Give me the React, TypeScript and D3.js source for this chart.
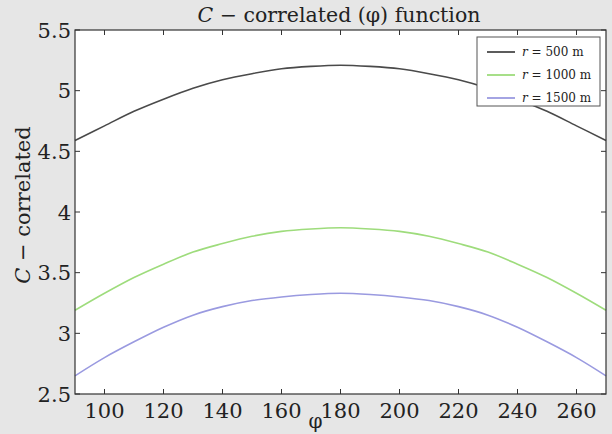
import { useEffect, useRef } from 'react';
import * as d3 from 'd3';

const phi = [90, 100, 110, 120, 130, 140, 150, 160, 170, 180, 190, 200, 210, 220, 230, 240, 250, 260, 270];
const r500 = [4.59, 4.71, 4.83, 4.93, 5.02, 5.09, 5.14, 5.18, 5.2, 5.21, 5.2, 5.18, 5.14, 5.09, 5.02, 4.93, 4.83, 4.71, 4.59];
const r1000 = [3.19, 3.33, 3.46, 3.57, 3.67, 3.74, 3.8, 3.84, 3.86, 3.87, 3.86, 3.84, 3.8, 3.74, 3.67, 3.57, 3.46, 3.33, 3.19];
const r1500 = [2.65, 2.8, 2.93, 3.05, 3.15, 3.22, 3.27, 3.3, 3.32, 3.33, 3.32, 3.3, 3.27, 3.22, 3.15, 3.05, 2.93, 2.8, 2.65];
const seriesNames = ['500', '1000', '1500'];
const seriesColors = ['#4a4a4a', '#9edc7c', '#9a9ae0'];
const xTicks = [100, 120, 140, 160, 180, 200, 220, 240, 260];
const yTicks = [2.5, 3, 3.5, 4, 4.5, 5, 5.5];

const W = 612;
const H = 434;
const FONT = '"DejaVu Serif", serif';

const App = () => {
  const ref = useRef<SVGSVGElement>(null);

  useEffect(() => {
    const svg = d3.select(ref.current);
    svg.selectAll('*').remove();

    const margin = { top: 30, right: 6, bottom: 40, left: 75 };
    const x = d3.scaleLinear().domain([90, 270]).range([margin.left, W - margin.right]);
    const y = d3.scaleLinear().domain([2.5, 5.5]).range([H - margin.bottom, margin.top]);
    const axisColor = '#333';

    svg.append('rect').attr('width', W).attr('height', H).attr('fill', '#e6e6e6');
    svg
      .append('rect')
      .attr('x', x(90))
      .attr('y', y(5.5))
      .attr('width', x(270) - x(90))
      .attr('height', y(2.5) - y(5.5))
      .attr('fill', '#fff');

    // lines
    const series = [r500, r1000, r1500];
    const line = d3
      .line<number>()
      .x((_, i) => x(phi[i]))
      .y((d) => y(d))
      .curve(d3.curveMonotoneX);
    series.forEach((s, i) => {
      svg
        .append('path')
        .attr('d', line(s))
        .attr('fill', 'none')
        .attr('stroke', seriesColors[i])
        .attr('stroke-width', 1.6);
    });

    // ticks (inward, all four sides)
    const g = svg.append('g').attr('stroke', axisColor).attr('stroke-width', 1);
    xTicks.forEach((t) => {
      g.append('line').attr('x1', x(t)).attr('x2', x(t)).attr('y1', y(2.5)).attr('y2', y(2.5) - 5);
      g.append('line').attr('x1', x(t)).attr('x2', x(t)).attr('y1', y(5.5)).attr('y2', y(5.5) + 5);
    });
    yTicks.forEach((t) => {
      g.append('line').attr('x1', x(90)).attr('x2', x(90) + 5).attr('y1', y(t)).attr('y2', y(t));
      g.append('line').attr('x1', x(270)).attr('x2', x(270) - 5).attr('y1', y(t)).attr('y2', y(t));
    });
    svg
      .append('rect')
      .attr('x', x(90))
      .attr('y', y(5.5))
      .attr('width', x(270) - x(90))
      .attr('height', y(2.5) - y(5.5))
      .attr('fill', 'none')
      .attr('stroke', axisColor)
      .attr('stroke-width', 1.2);

    // tick labels
    svg
      .selectAll('.xl')
      .data(xTicks)
      .enter()
      .append('text')
      .attr('x', (d) => x(d))
      .attr('y', y(2.5) + 24)
      .attr('text-anchor', 'middle')
      .attr('font-family', FONT)
      .attr('font-size', 21)
      .attr('fill', '#222')
      .text((d) => d);
    svg
      .selectAll('.yl')
      .data(yTicks)
      .enter()
      .append('text')
      .attr('x', x(90) - 4)
      .attr('y', (d) => y(d) + 7.5)
      .attr('text-anchor', 'end')
      .attr('font-family', FONT)
      .attr('font-size', 21)
      .attr('fill', '#222')
      .text((d) => d);

    // title
    const title = svg
      .append('text')
      .attr('x', 339)
      .attr('y', 22)
      .attr('text-anchor', 'middle')
      .attr('font-family', FONT)
      .attr('font-size', 20.5)
      .attr('fill', '#222');
    title.append('tspan').attr('font-style', 'italic').text('C');
    title.append('tspan').text(' − correlated (φ) function');

    // axis labels
    svg
      .append('text')
      .attr('x', x(180) - 25)
      .attr('y', 428)
      .attr('text-anchor', 'middle')
      .attr('font-family', FONT)
      .attr('font-size', 20)
      .attr('fill', '#222')
      .text('φ');
    const yl = svg
      .append('text')
      .attr('transform', `translate(30,205) rotate(-90)`)
      .attr('text-anchor', 'middle')
      .attr('font-family', FONT)
      .attr('font-size', 21)
      .attr('fill', '#222');
    yl.append('tspan').attr('font-style', 'italic').text('C');
    yl.append('tspan').text(' − correlated');

    // legend
    const lg = svg.append('g').attr('transform', 'translate(477,37)');
    lg.append('rect')
      .attr('width', 123)
      .attr('height', 69)
      .attr('fill', '#fff')
      .attr('stroke', '#555')
      .attr('stroke-width', 1);
    seriesNames.forEach((n, i) => {
      const yy = 15 + i * 23;
      lg.append('line')
        .attr('x1', 10)
        .attr('x2', 38)
        .attr('y1', yy)
        .attr('y2', yy)
        .attr('stroke', seriesColors[i])
        .attr('stroke-width', 1.8);
      const t = lg
        .append('text')
        .attr('x', 45)
        .attr('y', yy + 4)
        .attr('font-family', FONT)
        .attr('font-size', 12)
        .attr('fill', '#222');
      t.append('tspan').attr('font-style', 'italic').text('r');
      t.append('tspan').text(` = ${n} m`);
    });
  }, []);

  return (
    <svg
      ref={ref}
      width={W}
      height={H}
      style={{ position: 'absolute', left: 0, top: 0 }}
    ></svg>
  );
};

export default App;
